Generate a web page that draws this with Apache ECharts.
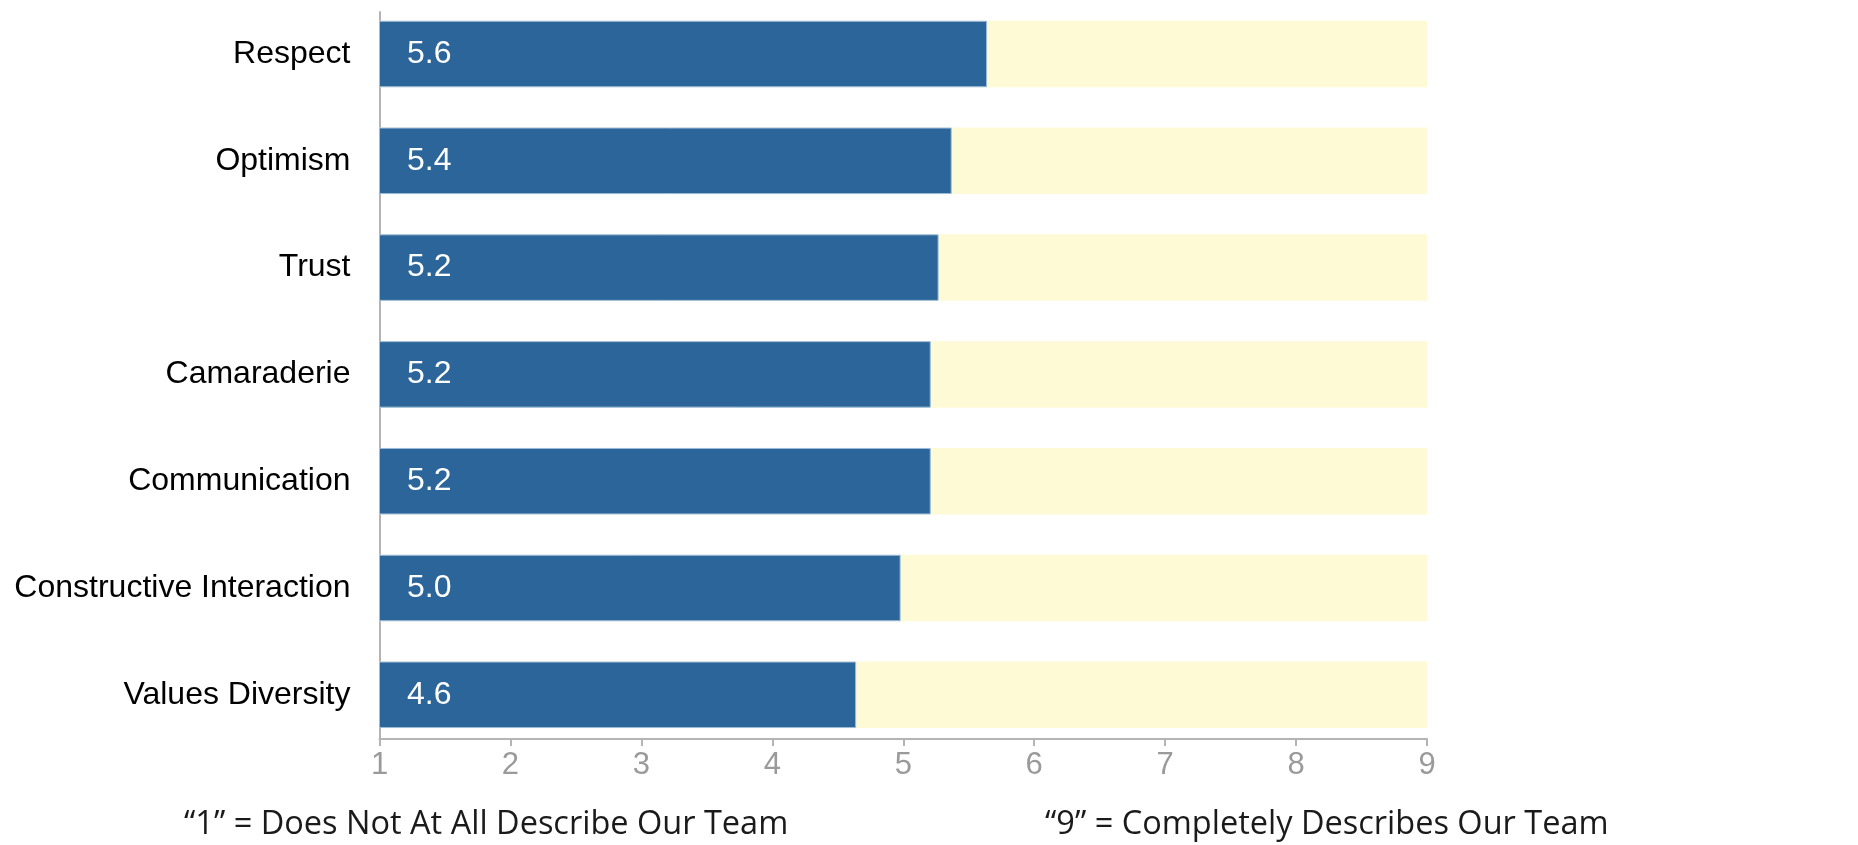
<!DOCTYPE html>
<html>
<head>
<meta charset="utf-8">
<script src="https://cdn.jsdelivr.net/npm/echarts@6/dist/echarts.min.js"></script>
<style>
html,body{margin:0;padding:0;background:#fff;}
#chart{width:1858px;height:845px;}
</style>
</head>
<body>
<div id="chart"></div>
<script>
const categories = ["Respect", "Optimism", "Trust", "Camaraderie", "Communication", "Constructive Interaction", "Values Diversity"];
const scores = [5.64, 5.37, 5.27, 5.21, 5.21, 4.98, 4.64];
const scoreLabels = ["5.6", "5.4", "5.2", "5.2", "5.2", "5.0", "4.6"];
const scaleMin = 1;
const scaleMax = 9;
const tickLabels = ["1", "2", "3", "4", "5", "6", "7", "8", "9"];
const footLeft = "\u201c1\u201d = Does Not At All Describe Our Team";
const footRight = "\u201c9\u201d = Completely Describes Our Team";

const chart = echarts.init(document.getElementById('chart'), null, {renderer: 'canvas'});
const axisGray = '#b4b4b4';
const option = {
  animation: false,
  backgroundColor: '#ffffff',
  grid: [
    {left: 379.5, width: 1047.5, top: 0.6, height: 747.6, containLabel: false},
    {left: 379.5, width: 1047.5, top: 12, height: 727, containLabel: false}
  ],
  xAxis: [
    {gridIndex: 0, type: 'value', min: scaleMin, max: scaleMax, interval: 1, show: false},
    {gridIndex: 1, type: 'value', min: scaleMin, max: scaleMax, interval: 1,
      axisLine: {show: true, lineStyle: {color: axisGray, width: 2}},
      axisTick: {show: true, length: 7, lineStyle: {color: axisGray, width: 2}},
      splitLine: {show: false},
      axisLabel: {show: true, margin: 11, color: '#9a9a9a', fontSize: 31,
        fontFamily: '"Liberation Sans Narrow", "Liberation Sans", Arial, sans-serif',
        formatter: function (v) { return tickLabels[Math.round(v) - scaleMin] || ''; }}
    }
  ],
  yAxis: [
    {gridIndex: 0, type: 'category', data: categories, inverse: true,
      axisLine: {show: false}, axisTick: {show: false}, splitLine: {show: false},
      axisLabel: {show: true, margin: 29, color: '#000000', fontSize: 32,
        fontFamily: '"Liberation Sans", Arial, sans-serif'}
    },
    {gridIndex: 1, type: 'value', min: 0, max: 1,
      axisLine: {show: true, lineStyle: {color: axisGray, width: 2}},
      axisTick: {show: false}, axisLabel: {show: false}, splitLine: {show: false}
    }
  ],
  series: [
    {
      type: 'bar',
      xAxisIndex: 0, yAxisIndex: 0,
      data: scores,
      barWidth: 66.5,
      showBackground: true,
      backgroundStyle: {color: '#FFFAD6'},
      itemStyle: {color: '#2B6599', borderColor: '#9dbcd9', borderWidth: 1},
      label: {
        show: true, position: 'insideLeft', distance: 28,
        color: '#ffffff', fontSize: 32,
        fontFamily: '"Liberation Sans", Arial, sans-serif',
        formatter: function (p) { return scoreLabels[p.dataIndex]; }
      },
      z: 3
    }
  ],
  graphic: [
    {type: 'text', left: 184, top: 808,
      style: {text: footLeft, fill: '#1a1a1a', fontSize: 32.5, fontFamily: '"Open Sans", "Noto Sans", sans-serif'}},
    {type: 'text', left: 1045, top: 808,
      style: {text: footRight, fill: '#1a1a1a', fontSize: 32.5, fontFamily: '"Open Sans", "Noto Sans", sans-serif'}}
  ]
};
chart.setOption(option);
</script>
</body>
</html>
